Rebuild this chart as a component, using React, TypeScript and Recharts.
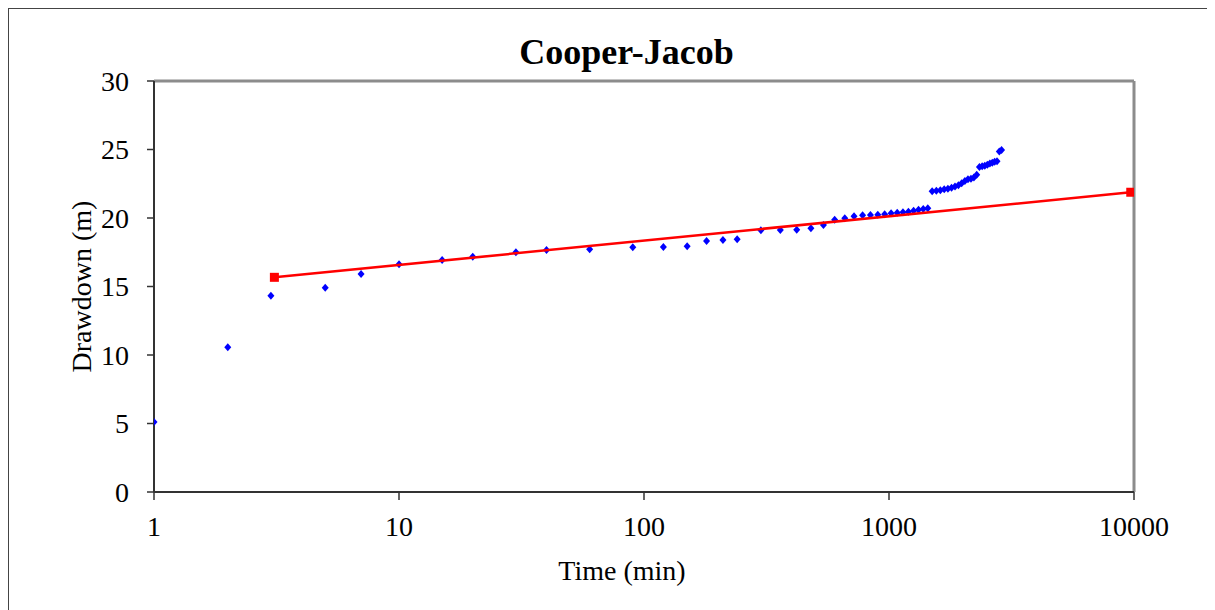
import React from 'react';
import {
  ScatterChart,
  Scatter,
  XAxis,
  YAxis,
  ReferenceLine,
  Label,
} from 'recharts';

// Pumping test readings (time in minutes, drawdown in metres)
const TIME_MIN = [
  1, 2, 3, 5, 7, 10, 15, 20, 30, 40, 60, 90, 120, 150, 180, 210, 240, 300, 360,
  420, 480, 540, 600, 660, 720, 780, 840, 900, 960, 1020, 1080, 1140, 1200,
  1260, 1320, 1380, 1440, 1500, 1560, 1620, 1680, 1740, 1800, 1860, 1920, 1980,
  2040, 2100, 2160, 2220, 2280, 2340, 2400, 2460, 2520, 2580, 2640, 2700, 2760,
  2820, 2880,
];
const DRAWDOWN_M = [
  5.11, 10.56, 14.33, 14.91, 15.91, 16.62, 16.93, 17.18, 17.5, 17.66, 17.72,
  17.86, 17.88, 17.93, 18.32, 18.39, 18.45, 19.1, 19.12, 19.15, 19.25, 19.49,
  19.88, 19.98, 20.12, 20.2, 20.22, 20.24, 20.27, 20.34, 20.38, 20.42, 20.46,
  20.53, 20.61, 20.66, 20.71, 21.95, 21.99, 22.03, 22.1, 22.14, 22.2, 22.3,
  22.39, 22.53, 22.7, 22.82, 22.87, 22.96, 23.15, 23.72, 23.77, 23.81, 23.89,
  23.98, 24.04, 24.1, 24.14, 24.85, 24.96,
];

// Cooper-Jacob straight line (two end points)
const FIT_TIME = [3.1, 9700];
const FIT_DRAWDOWN = [15.67, 21.88];

const X_TICKS = [1, 10, 100, 1000, 10000];
const Y_TICKS = [0, 5, 10, 15, 20, 25, 30];

const FONT = '"Liberation Serif", "Times New Roman", serif';
const AXIS_COLOR = '#333333';
const FRAME_COLOR = '#8c8c8c';

const Diamond = (props: any) => {
  const { cx, cy } = props;
  if (cx == null || cy == null) return null;
  return (
    <polygon
      points={`${cx},${cy - 4} ${cx + 3.5},${cy} ${cx},${cy + 4} ${cx - 3.5},${cy}`}
      fill="#0000ff"
    />
  );
};

const RedSquare = (props: any) => {
  const { cx, cy } = props;
  if (cx == null || cy == null) return null;
  return <rect x={cx - 4.5} y={cy - 4.5} width={9} height={9} fill="#ff0000" />;
};

export default function App() {
  const observed = TIME_MIN.map((t, i) => ({ t, s: DRAWDOWN_M[i] }));
  const fit = FIT_TIME.map((t, i) => ({ t, s: FIT_DRAWDOWN[i] }));

  const tickStyle = { fill: '#000', fontSize: 28, fontFamily: FONT };

  return (
    <div
      style={{
        position: 'relative',
        width: 1206,
        height: 602,
        borderLeft: '1px solid #444',
        borderTop: '1px solid #444',
        background: '#fff',
        overflow: 'hidden',
        fontFamily: FONT,
      }}
    >
      <ScatterChart
        width={1206}
        height={601}
        margin={{ top: 72, right: 81, bottom: 18, left: 0 }}
      >
        <XAxis
          type="number"
          dataKey="t"
          scale="log"
          domain={[1, 10000]}
          ticks={X_TICKS}
          allowDataOverflow
          height={100}
          tickSize={8}
          tickMargin={16}
          tick={tickStyle}
          axisLine={{ stroke: AXIS_COLOR, strokeWidth: 2 }}
          tickLine={{ stroke: AXIS_COLOR, strokeWidth: 1.5 }}
        >
          <Label
            value="Time (min)"
            position="insideBottom"
            offset={12}
            dx={-22}
            style={{ fill: '#000', fontSize: 28, fontFamily: FONT }}
          />
        </XAxis>
        <YAxis
          type="number"
          dataKey="s"
          domain={[0, 30]}
          ticks={Y_TICKS}
          allowDataOverflow
          width={145}
          tickSize={7}
          tickMargin={18}
          tick={tickStyle}
          axisLine={{ stroke: AXIS_COLOR, strokeWidth: 2 }}
          tickLine={{ stroke: AXIS_COLOR, strokeWidth: 1.5 }}
        >
          <Label
            value="Drawdown (m)"
            position="center"
            angle={-90}
            style={{ fill: '#000', fontSize: 28, fontFamily: FONT, textAnchor: 'middle' }}
          />
        </YAxis>
        <ReferenceLine y={30} stroke={FRAME_COLOR} strokeWidth={3} />
        <ReferenceLine x={10000} stroke={FRAME_COLOR} strokeWidth={3} />
        <Scatter
          data={observed}
          shape={<Diamond />}
          isAnimationActive={false}
        />
        <Scatter
          data={fit}
          shape={<RedSquare />}
          line={{ stroke: '#ff0000', strokeWidth: 2.5 }}
          lineType="joint"
          isAnimationActive={false}
        />
      </ScatterChart>
      <div
        style={{
          position: 'absolute',
          left: 417.5,
          top: 25,
          width: 400,
          textAlign: 'center',
          fontSize: 36,
          lineHeight: '36px',
          fontWeight: 'bold',
          color: '#000',
        }}
      >
        Cooper-Jacob
      </div>
    </div>
  );
}
